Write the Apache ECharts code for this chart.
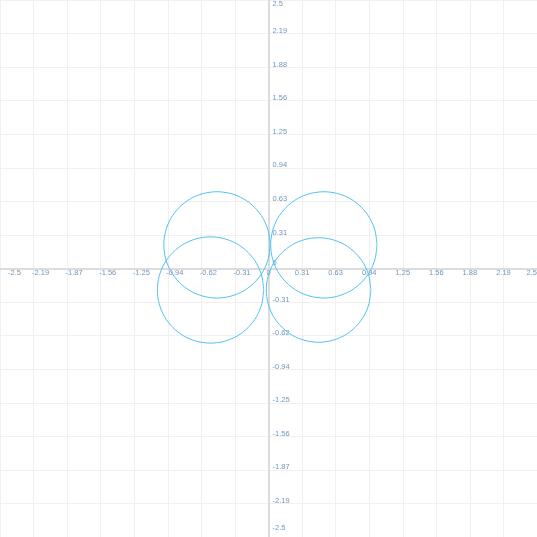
<!DOCTYPE html>
<html><head><meta charset="utf-8">
<script src="https://cdn.jsdelivr.net/npm/echarts@6/dist/echarts.min.js"></script>
<style>html,body{margin:0;padding:0;background:#fff}#c{width:537px;height:537px}</style>
</head><body><div id="c"></div>
<script>
// tick labels for both axes (from -2.5 to 2.5, step 0.3125)
var tickLabels = ['-2.5','-2.19','-1.87','-1.56','-1.25','-0.94','-0.62','-0.31','0','0.31','0.63','0.94','1.25','1.56','1.88','2.19','2.5'];
var axisMin = -2.5, axisMax = 2.5, axisStep = 0.3125;

// four loops, as [x, y] points
var loopTopLeft = [[0.015,0.220],[-0.002,0.348],[-0.051,0.468],[-0.130,0.570],[-0.232,0.649],[-0.352,0.698],[-0.480,0.715],[-0.608,0.698],[-0.728,0.649],[-0.830,0.570],[-0.909,0.468],[-0.958,0.348],[-0.975,0.220],[-0.958,0.092],[-0.909,-0.028],[-0.830,-0.130],[-0.728,-0.209],[-0.608,-0.258],[-0.480,-0.275],[-0.352,-0.258],[-0.232,-0.209],[-0.130,-0.130],[-0.051,-0.028],[-0.002,0.092],[0.015,0.220]];
var loopTopRight = [[1.010,0.220],[0.993,0.348],[0.944,0.468],[0.865,0.570],[0.763,0.649],[0.643,0.698],[0.515,0.715],[0.387,0.698],[0.267,0.649],[0.165,0.570],[0.086,0.468],[0.037,0.348],[0.020,0.220],[0.037,0.092],[0.086,-0.028],[0.165,-0.130],[0.267,-0.209],[0.387,-0.258],[0.515,-0.275],[0.643,-0.258],[0.763,-0.209],[0.865,-0.130],[0.944,-0.028],[0.993,0.092],[1.010,0.220]];
var loopBottomLeft = [[-0.045,-0.200],[-0.062,-0.072],[-0.111,0.048],[-0.190,0.150],[-0.292,0.229],[-0.412,0.278],[-0.540,0.295],[-0.668,0.278],[-0.788,0.229],[-0.890,0.150],[-0.969,0.048],[-1.018,-0.072],[-1.035,-0.200],[-1.018,-0.328],[-0.969,-0.448],[-0.890,-0.550],[-0.788,-0.629],[-0.668,-0.678],[-0.540,-0.695],[-0.412,-0.678],[-0.292,-0.629],[-0.190,-0.550],[-0.111,-0.448],[-0.062,-0.328],[-0.045,-0.200]];
var loopBottomRight = [[0.953,-0.200],[0.936,-0.074],[0.888,0.044],[0.810,0.144],[0.710,0.222],[0.592,0.270],[0.466,0.287],[0.340,0.270],[0.222,0.222],[0.122,0.144],[0.044,0.044],[-0.004,-0.074],[-0.021,-0.200],[-0.004,-0.326],[0.044,-0.444],[0.122,-0.544],[0.222,-0.622],[0.340,-0.670],[0.466,-0.687],[0.592,-0.670],[0.710,-0.622],[0.810,-0.544],[0.888,-0.444],[0.936,-0.326],[0.953,-0.200]];

var loops = [loopTopLeft, loopTopRight, loopBottomLeft, loopBottomRight];

function labelFor(v) {
  var i = Math.round((v - axisMin) / axisStep);
  return tickLabels[i];
}
var labelColor = '#7196bb';
var fs = 7.5;
var half = 268.5;

var chart = echarts.init(document.getElementById('c'), null, {renderer: 'canvas'});
chart.setOption({
  animation: false,
  grid: {left: 0, right: 0, top: 0, bottom: 0, containLabel: false, outerBoundsMode: 'none'},
  xAxis: {
    type: 'value', min: axisMin, max: axisMax, interval: axisStep,
    position: 'bottom', offset: -half,
    axisLine: {onZero: false, lineStyle: {color: '#dcdcdc', width: 2}},
    axisTick: {show: false},
    splitLine: {show: true, lineStyle: {color: '#f0f0f0', width: 1}},
    axisLabel: {
      margin: 0, fontSize: fs, color: labelColor,
      alignMinLabel: 'left', alignMaxLabel: 'right',
      formatter: function (v, idx) {
        var t = labelFor(v);
        if (idx === 0) return '{m|' + t + '}';
        if (v < 0) return '{n|' + t + '}';
        return t;
      },
      rich: {
        n: {fontSize: fs, color: labelColor, padding: [0, 0, 0, 14]},
        m: {fontSize: fs, color: labelColor, padding: [0, 0, 0, 8]}
      }
    }
  },
  yAxis: {
    type: 'value', min: axisMin, max: axisMax, interval: axisStep,
    position: 'left', offset: -half,
    axisLine: {onZero: false, lineStyle: {color: '#dcdcdc', width: 2}},
    axisTick: {show: false},
    splitLine: {show: true, lineStyle: {color: '#f0f0f0', width: 1}},
    axisLabel: {
      inside: true, margin: 4, fontSize: fs, color: labelColor,
      verticalAlignMinLabel: 'bottom', verticalAlignMaxLabel: 'top',
      formatter: function (v, idx) {
        var t = labelFor(v);
        if (idx === 0) return '{b|' + t + '}';
        if (idx === tickLabels.length - 1) return t;
        if (v === 0) return '{z|' + t + '}';
        return '{u|' + t + '}';
      },
      rich: {
        u: {fontSize: fs, color: labelColor, padding: [0, 0, 5, 0]},
        z: {fontSize: fs, color: labelColor, padding: [0, 0, 12, 0]},
        b: {fontSize: fs, color: labelColor, padding: [0, 0, 5, 0]}
      }
    }
  },
  series: loops.map(function (pts) {
    return {
      type: 'line', data: pts, showSymbol: false, symbol: 'none',
      smooth: 0.3,
      lineStyle: {color: '#4fc0f4', width: 1},
      silent: true
    };
  })
});
</script>
</body></html>
